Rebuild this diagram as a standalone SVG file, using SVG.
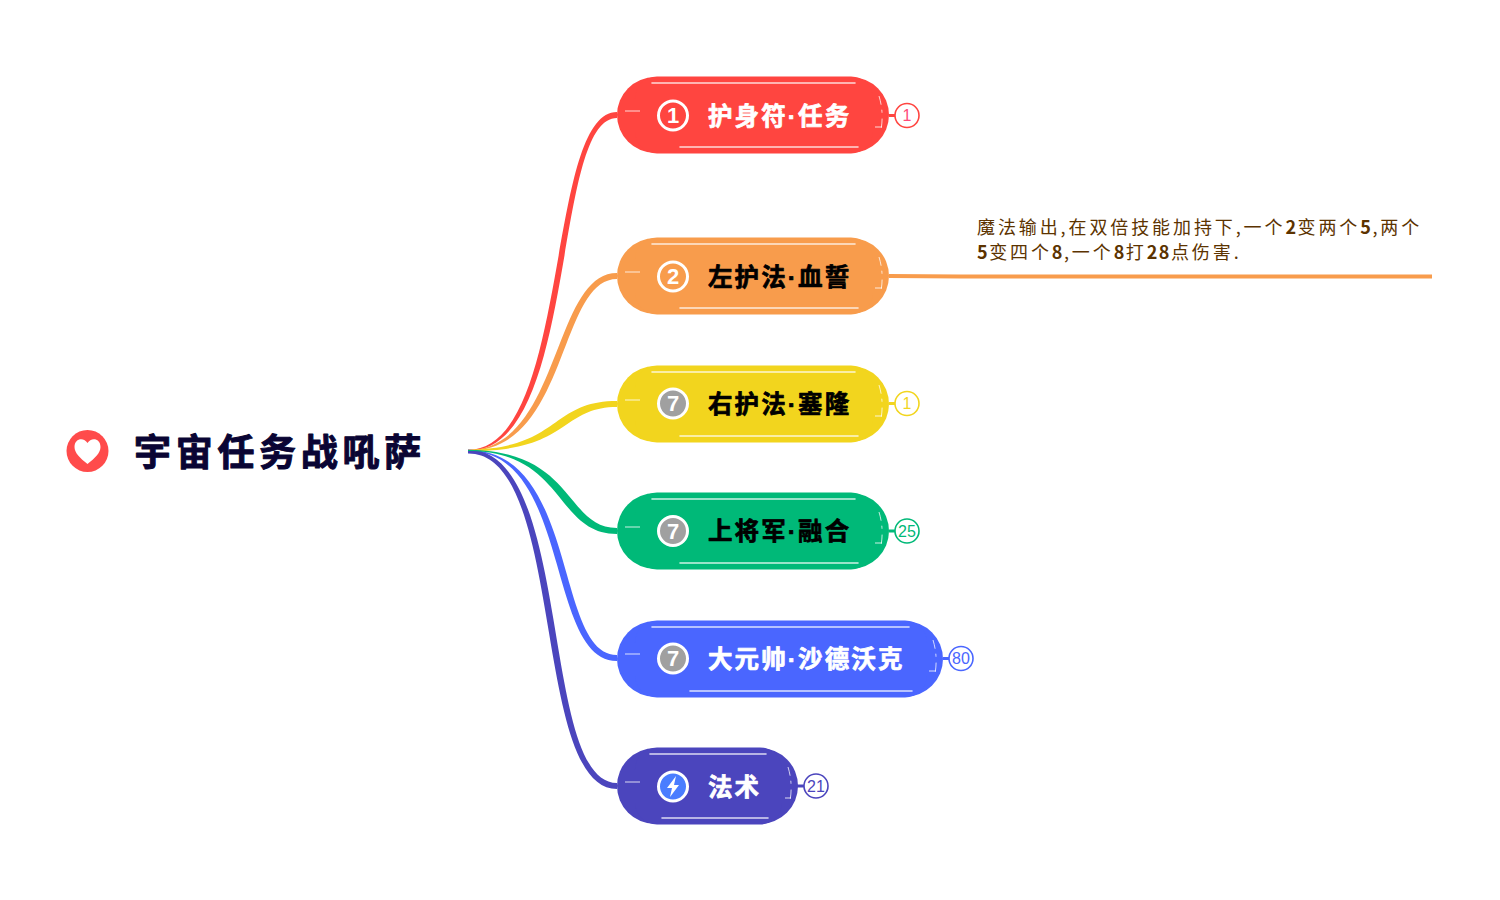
<svg xmlns="http://www.w3.org/2000/svg" width="1500" height="900" viewBox="0 0 1500 900">
<style>
text{font-family:"Noto Sans CJK SC","Noto Sans",sans-serif}
.t{font-size:24.5px;font-weight:700;letter-spacing:2.1px;stroke-width:.7px;stroke-linejoin:round}
.dot{font-family:"Liberation Sans",sans-serif}
.w{fill:#fff;stroke:#fff}.k{fill:#000;stroke:#000}
.hl{stroke:#fff;stroke-width:1.600;fill:none;stroke-linecap:round;opacity:.8}
.hs{stroke:#fff;stroke-width:1;fill:none;opacity:.8}
.hd{stroke:#fff;stroke-width:1;fill:none;opacity:.75;stroke-dasharray:9 5 3 6}
.n{font-family:"Liberation Sans",sans-serif;font-size:16px;text-anchor:middle}
.bd{fill:#fff;stroke-width:1.600}
.ic{stroke:#fff;stroke-width:3}
.d{font-size:18px;fill:#5c3300;letter-spacing:2.900px}
.d tspan{font-weight:700;letter-spacing:1.500px}
.num{font-family:"Liberation Sans",sans-serif;font-size:22px;font-weight:700;fill:#fff;text-anchor:middle}
</style>
<g id="connectors">
<path fill="#ff4540" d="M468 450C571 449 545 112 617 112V118C551 118 579 451 468 451Z"/>
<path fill="#f89c4c" d="M468 450C561 449 552 273 617 273V279C558 279 569 451 468 451Z"/>
<path fill="#f2d51e" d="M468 449.500C560 449 550 401 617 401V407C560 407 570 452 468 451Z"/>
<path fill="#4a66ff" d="M468 450C579 450 554 655 617 655V661C546 661 571 451 468 451Z"/>
<path fill="#4b45bd" d="M468 449.500C574 450 539 783 617 783V789C531 789 566 452 468 453.500Z"/>
<path fill="#00b978" d="M468 450C575 450 565 528 617 528V534C555 534 565 451 468 451Z"/>
<path stroke="#f89c4c" stroke-width="4" fill="none" d="M889 276L960 276.500L1432 276.500"/>
<path stroke="#ff4540" stroke-width="3" fill="none" d="M889 115.500H895"/>
<path stroke="#f2d51e" stroke-width="3" fill="none" d="M889 403.500H895"/>
<path stroke="#00b978" stroke-width="3" fill="none" d="M889 531H895"/>
<path stroke="#4a66ff" stroke-width="3" fill="none" d="M943 658.500H949"/>
<path stroke="#4b45bd" stroke-width="3" fill="none" d="M797 786H804"/>
</g>
<g id="root">
<circle cx="87.500" cy="451" r="21" fill="#ff4b4b"/>
<path fill="#fff" d="M87.500 464C80 458 74.500 453 74.500 447C74.500 438 84 437 87.500 443C91 437 100.500 438 100.500 447C100.500 453 95 458 87.500 464Z"/>
<text x="134" y="466" font-size="37" font-weight="700" letter-spacing="4.700" fill="#0a0534" stroke="#0a0534" stroke-width="1" stroke-linejoin="round">宇宙任务战吼萨</text>
</g>
<g id="node1">
<rect x="617" y="77" width="272" height="76" rx="38" fill="#ff4540"/>
<rect x="635" y="76.500" width="238" height="77" rx="22" fill="#ff4540"/>
<path class="hl" d="M652 83H855M680 147H858"/><path class="hs" d="M625 111H640M875 127H882"/><path class="hd" d="M879 96Q884 112 881 130"/>
<circle cx="673" cy="115.500" r="14.500" fill="#ff4540" class="ic"/><text class="num" x="673" y="123">1</text>
<text class="t w" x="708" y="124.500">护身符<tspan class="dot">·</tspan>任务</text>
<circle class="bd" cx="907" cy="115.500" r="12" stroke="#ff4540"/><text class="n" x="907" y="121" fill="#ff4b7a">1</text>
</g>
<g id="node2">
<rect x="617" y="238" width="272" height="76" rx="38" fill="#f89c4c"/>
<rect x="635" y="237.500" width="238" height="77" rx="22" fill="#f89c4c"/>
<path class="hl" d="M652 244H855M680 308H858"/><path class="hs" d="M625 272H640M875 288H882"/><path class="hd" d="M879 257Q884 273 881 291"/>
<circle cx="673" cy="276.500" r="14.500" fill="#f89c4c" class="ic"/><text class="num" x="673" y="284">2</text>
<text class="t k" x="708" y="285.500">左护法<tspan class="dot">·</tspan>血誓</text>
</g>
<g id="note2">
<text class="d" x="977" y="234">魔法输出,在双倍技能加持下,一个<tspan>2</tspan>变两个<tspan>5</tspan>,两个</text>
<text class="d" x="977" y="259"><tspan>5</tspan>变四个<tspan>8</tspan>,一个<tspan>8</tspan>打<tspan>28</tspan>点伤害.</text>
</g>
<g id="node3">
<rect x="617" y="366" width="272" height="76" rx="38" fill="#f2d51e"/>
<rect x="635" y="365.500" width="238" height="77" rx="22" fill="#f2d51e"/>
<path class="hl" d="M652 372H855M680 436H858"/><path class="hs" d="M625 400H640M875 416H882"/><path class="hd" d="M879 385Q884 401 881 419"/>
<circle cx="673" cy="403.500" r="14.500" fill="#a0a0a0" class="ic"/><text class="num" x="673" y="411">7</text>
<text class="t k" x="708" y="412.500">右护法<tspan class="dot">·</tspan>塞隆</text>
<circle class="bd" cx="907" cy="403.500" r="12" stroke="#f2d51e"/><text class="n" x="907" y="409" fill="#f2d51e">1</text>
</g>
<g id="node4">
<rect x="617" y="493" width="272" height="76" rx="38" fill="#00b978"/>
<rect x="635" y="492.500" width="238" height="77" rx="22" fill="#00b978"/>
<path class="hl" d="M652 499H855M680 563H858"/><path class="hs" d="M625 527H640M875 543H882"/><path class="hd" d="M879 512Q884 528 881 546"/>
<circle cx="673" cy="531" r="14.500" fill="#a0a0a0" class="ic"/><text class="num" x="673" y="539">7</text>
<text class="t k" x="708" y="540">上将军<tspan class="dot">·</tspan>融合</text>
<circle class="bd" cx="907" cy="531" r="12" stroke="#00b978"/><text class="n" x="907" y="536.500" fill="#00b978">25</text>
</g>
<g id="node5">
<rect x="617" y="621" width="326" height="76" rx="38" fill="#4a66ff"/>
<rect x="635" y="620.500" width="292" height="77" rx="22" fill="#4a66ff"/>
<path class="hl" d="M652 627H909M690 691H912"/><path class="hs" d="M625 654H640M929 671H936"/><path class="hd" d="M933 640Q938 656 935 674"/>
<circle cx="673" cy="658.500" r="14.500" fill="#a0a0a0" class="ic"/><text class="num" x="673" y="666">7</text>
<text class="t w" x="708" y="667.500">大元帅<tspan class="dot">·</tspan>沙德沃克</text>
<circle class="bd" cx="961" cy="658.500" r="12" stroke="#4a66ff"/><text class="n" x="961" y="664" fill="#4a66ff">80</text>
</g>
<g id="node6">
<rect x="617" y="748" width="181" height="76" rx="38" fill="#4b45bd"/>
<rect x="635" y="747.500" width="147" height="77" rx="22" fill="#4b45bd"/>
<path class="hl" d="M650 754H766M662 818H768"/><path class="hs" d="M625 782H640M785 798H791"/><path class="hd" d="M788 767Q793 783 790 801"/>
<circle cx="673" cy="786.500" r="14.500" fill="#4a7dff" class="ic"/><path fill="#fff" d="M676 776L667 788H672L670 797L679 785H674Z"/>
<text class="t w" x="708" y="795.500">法术</text>
<circle class="bd" cx="816" cy="786" r="12" stroke="#4b45bd"/><text class="n" x="816" y="791.500" fill="#4b45bd">21</text>
</g>
</svg>
